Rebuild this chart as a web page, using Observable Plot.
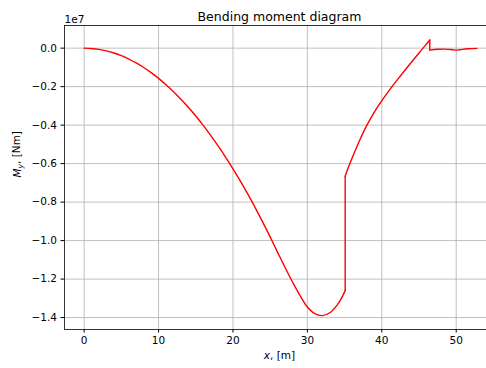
<!DOCTYPE html>
<html>
<head>
<meta charset="utf-8">
<script src="https://cdn.jsdelivr.net/npm/d3@7"></script>
<script src="https://cdn.jsdelivr.net/npm/@observablehq/plot@0.6"></script>
<style>
  html, body { margin: 0; padding: 0; background: #fff; }
  svg { display: block; }
</style>
</head>
<body>
<div id="chart"></div>
<script>
// Position along beam, m
const xPos = [
  0, 1, 2, 3, 4, 5, 6, 7, 8, 9, 10, 11, 12, 13, 14, 15, 16, 17, 18, 19, 20,
  21, 22, 23, 24, 25, 26, 27, 28, 29, 30, 31, 32, 33, 34, 34.5, 35.08,
  35.08, 35.5, 36, 37, 38, 39, 40, 41, 42, 43, 44, 45, 46, 46.45,
  46.45, 47.5, 48.5, 49.5, 50, 50.5, 51.5, 52.8
];
// Bending moment My, in units of 1e7 Nm
const momentE7 = [
  0, -0.0016, -0.0063, -0.0142, -0.0252, -0.0393, -0.0566, -0.077, -0.1006, -0.1273, -0.1571,
  -0.19, -0.226, -0.265, -0.307, -0.3525, -0.401, -0.453, -0.508, -0.566, -0.627,
  -0.691, -0.759, -0.83, -0.904, -0.981, -1.061, -1.14, -1.215, -1.285, -1.345, -1.38, -1.39, -1.375, -1.335, -1.305, -1.26,
  -0.665, -0.62, -0.572, -0.481, -0.40, -0.332, -0.273, -0.219, -0.169, -0.12, -0.072, -0.025, 0.021, 0.042,
  -0.010, -0.006, -0.005, -0.008, -0.010, -0.008, -0.003, -0.001
];
const xTicks = [0, 10, 20, 30, 40, 50];
const yTicks = [0, -0.2, -0.4, -0.6, -0.8, -1.0, -1.2, -1.4];
const titleText = "Bending moment diagram";
const xLabel = "x, [m]";
const yLabel = "My, [Nm]";
const offsetText = "1e7";

// split into continuous pieces at the jumps (repeated x)
let seg = 0;
const data = xPos.map((x, i) => {
  if (i > 0 && x === xPos[i - 1]) seg++;
  return {x, m: momentE7[i], seg};
});
// jump connectors (vertical drops) drawn as straight lines
const jumps = [];
xPos.forEach((x, i) => {
  if (i > 0 && x === xPos[i - 1]) {
    jumps.push({x, m: momentE7[i - 1], j: i}, {x, m: momentE7[i], j: i});
  }
});

const xDom = [-2.64, 54.07];
const yDom = [-1.462, 0.1177];
const grid = "#b0b0b0";

const chart = Plot.plot({
  width: 486,
  height: 368,
  marginLeft: 64,
  marginRight: 0,
  marginTop: 25,
  marginBottom: 39,
  style: {fontFamily: "DejaVu Sans", fontSize: "10.5px", background: "#fff", color: "#000"},
  x: {domain: xDom},
  y: {domain: yDom},
  marks: [
    Plot.gridX(xTicks, {stroke: grid, strokeOpacity: 1, strokeWidth: 0.8}),
    Plot.gridY(yTicks, {stroke: grid, strokeOpacity: 1, strokeWidth: 0.8}),
    Plot.line(data, {x: "x", y: "m", z: "seg", curve: "catmull-rom", stroke: "#ff0000", strokeWidth: 1.4, strokeLinejoin: "round"}),
    Plot.line(jumps, {x: "x", y: "m", z: "j", stroke: "#ff0000", strokeWidth: 1.4, strokeLinecap: "round"}),
    Plot.ruleX([xDom[0]], {stroke: "#000", strokeWidth: 0.8}),
    Plot.ruleY([yDom[0]], {stroke: "#000", strokeWidth: 0.8}),
    Plot.ruleY([yDom[1]], {stroke: "#000", strokeWidth: 0.8}),
    Plot.axisX({ticks: xTicks, tickSize: 3.5, tickPadding: 4, label: null, tickFormat: d => String(d), fontSize: 10.5}),
    Plot.axisY({ticks: yTicks, tickSize: 3.5, tickPadding: 4, label: null,
      tickFormat: d => d.toFixed(1).replace("-", "\u2212").replace("\u22120.0", "0.0"), fontSize: 10.5}),
    Plot.text([titleText], {text: d => d, frameAnchor: "top", dx: 4, dy: -5, lineAnchor: "bottom", fontSize: 12.5}),
    Plot.text([offsetText], {text: d => d, frameAnchor: "top-left", textAnchor: "start", dy: -2.5, lineAnchor: "bottom", fontSize: 10.5}),
    Plot.text([xLabel], {text: d => d, frameAnchor: "bottom", dx: 4, dy: 29, lineAnchor: "bottom", fontSize: 10.5, className: "xlab"}),
    Plot.text([yLabel], {text: d => d, frameAnchor: "left", dx: -46.5, rotate: -90, lineAnchor: "middle", fontSize: 10.5, className: "ylab"})
  ]
});

document.getElementById("chart").appendChild(chart);

// Math-style italics and subscript for axis labels
const xl = d3.select(chart).select(".xlab text");
xl.text(null);
xl.append("tspan").attr("font-style", "italic").text("x");
xl.append("tspan").text(", [m]");

const yl = d3.select(chart).select(".ylab text");
yl.text(null);
yl.append("tspan").attr("font-style", "italic").text("M");
yl.append("tspan").attr("font-style", "italic").attr("font-size", "7.5px").attr("dy", "0.25em").text("y");
yl.append("tspan").attr("dy", "-0.3em").text(", [Nm]");
</script>
</body>
</html>
